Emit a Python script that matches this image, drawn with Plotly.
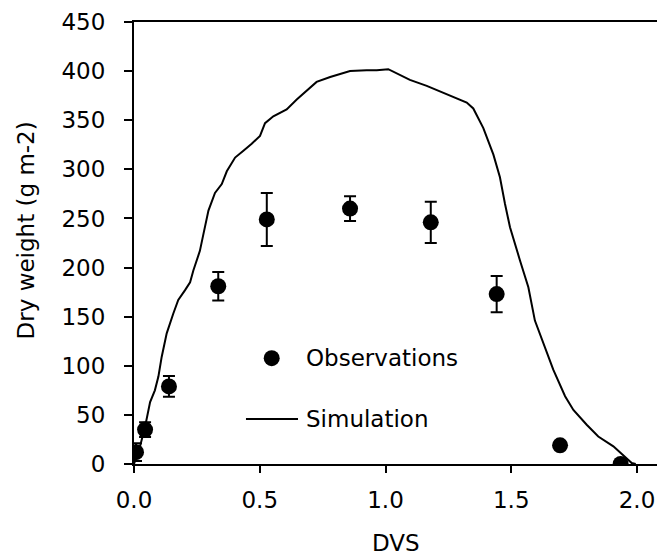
import plotly.graph_objects as go

# Simulated above-ground dry weight over development stage
sim_dvs = [0.000, 0.012, 0.024, 0.044, 0.064, 0.083, 0.097, 0.110, 0.130, 0.156,
           0.176, 0.203, 0.223, 0.236, 0.249, 0.262, 0.276, 0.296, 0.322, 0.349,
           0.369, 0.402, 0.435, 0.468, 0.501, 0.521, 0.554, 0.607, 0.647, 0.687,
           0.726, 0.780, 0.819, 0.859, 0.925, 0.965, 1.011, 1.058, 1.097, 1.164,
           1.230, 1.283, 1.323, 1.349, 1.389, 1.429, 1.455, 1.475, 1.495, 1.535,
           1.568, 1.594, 1.627, 1.667, 1.714, 1.747, 1.800, 1.846, 1.906, 1.946,
           1.979, 1.995]
sim_dw = [0, 8, 18, 38, 63, 75, 89, 109, 133, 153,
          167, 177, 185, 197, 206, 217, 234, 258, 276, 285,
          298, 312, 319, 326, 334, 347, 354, 361, 371, 380,
          389, 394, 397, 400, 401, 401, 402, 396, 391, 385,
          378, 372, 368, 362, 342, 315, 292, 265, 241, 207,
          180, 146, 123, 96, 69, 55, 40, 28, 18, 9,
          1, 0]

# Observed dry weight with standard deviation
obs_dvs = [0.008, 0.044, 0.139, 0.335, 0.528, 0.859, 1.180, 1.442, 1.694, 1.935]
obs_dw = [12, 35, 79, 181, 249, 260, 246, 173, 19, 0]
obs_sd = [9, 7.5, 10.5, 14.5, 27, 12.5, 21, 18.5, 0, 0]

x_ticks = [0.0, 0.5, 1.0, 1.5, 2.0]
y_ticks = [0, 50, 100, 150, 200, 250, 300, 350, 400, 450]

FONT = "Verdana, DejaVu Sans, sans-serif"
FS = 23

fig = go.Figure()
fig.add_trace(go.Scatter(
    x=sim_dvs, y=sim_dw, mode="lines", name="Simulation",
    line=dict(color="black", width=2), showlegend=False,
))
fig.add_trace(go.Scatter(
    x=obs_dvs, y=obs_dw, mode="markers", name="Observations",
    marker=dict(color="black", size=16, symbol="circle"),
    error_y=dict(type="data", array=obs_sd, visible=True,
                 color="black", thickness=2, width=6),
    showlegend=False,
))

# Hand-placed key inside the plot area
fig.add_shape(type="circle", xref="paper", yref="paper",
              xsizemode="pixel", ysizemode="pixel",
              xanchor=0.2633, yanchor=0.2395,
              x0=-8, x1=8, y0=-8, y1=8,
              fillcolor="black", line=dict(color="black", width=0))
fig.add_shape(type="line", xref="paper", yref="paper",
              x0=0.2141, x1=0.3136, y0=0.1017, y1=0.1017,
              line=dict(color="black", width=2))
fig.add_annotation(text="Observations", xref="paper", yref="paper",
                   x=0.325, y=0.2395, xanchor="left", yanchor="middle",
                   showarrow=False, font=dict(family=FONT, size=FS, color="black"))
fig.add_annotation(text="Simulation", xref="paper", yref="paper",
                   x=0.325, y=0.1017, xanchor="left", yanchor="middle",
                   showarrow=False, font=dict(family=FONT, size=FS, color="black"))

# Axis titles
fig.add_annotation(text="DVS", xref="paper", yref="paper",
                   x=0.5, y=-0.178, xanchor="center", yanchor="middle",
                   showarrow=False, font=dict(family=FONT, size=FS, color="black"))
fig.add_annotation(text="Dry weight (g m-2)", xref="paper", yref="paper",
                   x=-0.206, y=0.529, xanchor="center", yanchor="middle",
                   textangle=-90, showarrow=False,
                   font=dict(family=FONT, size=FS, color="black"))

fig.update_layout(
    width=657, height=557,
    margin=dict(l=134, r=0, t=22, b=93, pad=0),
    paper_bgcolor="white", plot_bgcolor="white",
    font=dict(family=FONT, size=FS, color="black"),
    showlegend=False,
)
fig.update_xaxes(
    range=[0, 2.0795], tickvals=x_ticks, ticktext=[f"{v:.1f}" for v in x_ticks],
    showgrid=False, zeroline=False,
    showline=True, linecolor="black", linewidth=2, mirror=True,
    ticks="outside", ticklen=7, tickwidth=2, tickcolor="black",
    ticklabelstandoff=7,
)
fig.update_yaxes(
    range=[0, 450], tickvals=y_ticks,
    showgrid=False, zeroline=False,
    showline=True, linecolor="black", linewidth=2,
    ticks="outside", ticklen=8, tickwidth=2, tickcolor="black",
    ticklabelstandoff=14,
)

fig.write_html("out.html")
